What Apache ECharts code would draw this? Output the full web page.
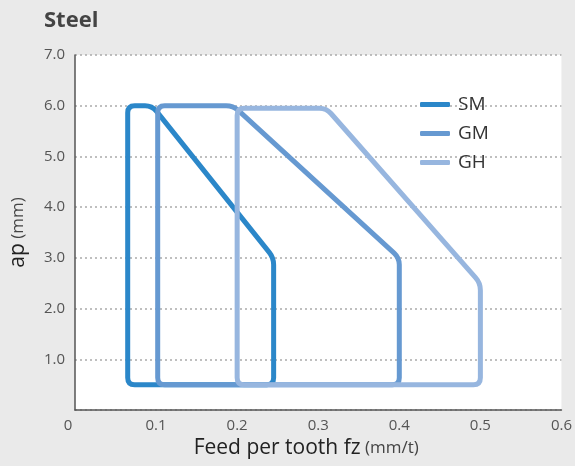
<!DOCTYPE html>
<html>
<head>
<meta charset="utf-8">
<script src="https://cdn.jsdelivr.net/npm/echarts@6/dist/echarts.min.js"></script>
<style>
  html, body { margin: 0; padding: 0; background: #eaeaea; }
  #chart { width: 575px; height: 466px; }
</style>
</head>
<body>
<div id="chart"></div>
<script>
// outline vertices of each grade (fz, ap)
var seriesNames = ['SM', 'GM', 'GH'];
var smFz = [0.065, 0.065, 0.095, 0.245, 0.245];
var smAp = [0.5, 6.0, 6.0, 3.0, 0.5];
var gmFz = [0.102, 0.102, 0.195, 0.4, 0.4];
var gmAp = [0.5, 6.0, 6.0, 3.0, 0.5];
var ghFz = [0.2, 0.2, 0.31, 0.5, 0.5];
var ghAp = [0.5, 5.95, 5.95, 2.5, 0.5];
var xTicks = [0, 0.1, 0.2, 0.3, 0.4, 0.5, 0.6];
var yTicks = [0, 1, 2, 3, 4, 5, 6, 7];

var colors = ['#2b87c9', '#6699d1', '#97b6df'];

var myChart = echarts.init(document.getElementById('chart'));

function toData(xs, ys) {
  return xs.map(function (x, i) { return [x, ys[i]]; });
}

// rounded polygon, drawn once per series from all its points
function makeRender(color) {
  return function (params, api) {
    if (params.dataIndex !== 0) return null;
    var pts = [];
    var n = params.dataInsideLength;
    for (var i = 0; i < n; i++) {
      pts.push(api.coord([api.value(0, i), api.value(1, i)]));
    }
    var r = 7;
    var d = '';
    for (var k = 0; k < pts.length; k++) {
      var v = pts[k];
      var p = pts[(k - 1 + pts.length) % pts.length];
      var q = pts[(k + 1) % pts.length];
      var lp = Math.hypot(p[0] - v[0], p[1] - v[1]);
      var lq = Math.hypot(q[0] - v[0], q[1] - v[1]);
      var rr = Math.min(r, lp / 2, lq / 2);
      var a = [v[0] + (p[0] - v[0]) / lp * rr, v[1] + (p[1] - v[1]) / lp * rr];
      var b = [v[0] + (q[0] - v[0]) / lq * rr, v[1] + (q[1] - v[1]) / lq * rr];
      d += (k === 0 ? 'M' : 'L') + a[0] + ',' + a[1] + ' Q' + v[0] + ',' + v[1] + ' ' + b[0] + ',' + b[1] + ' ';
    }
    d += 'Z';
    return {
      type: 'path',
      shape: { pathData: d },
      style: { fill: null, stroke: color, lineWidth: 5, lineJoin: 'round', lineCap: 'round' }
    };
  };
}

var allData = [toData(smFz, smAp), toData(gmFz, gmAp), toData(ghFz, ghAp)];

var option = {
  backgroundColor: '#eaeaea',
  animation: false,
  textStyle: { fontFamily: 'Open Sans' },
  title: {
    text: 'Steel',
    left: 39,
    top: 5,
    textStyle: { fontSize: 22, fontWeight: 'bold', color: '#444', fontFamily: 'Open Sans' }
  },
  legend: {
    orient: 'vertical',
    left: 420,
    top: 95,
    padding: 0,
    itemWidth: 30,
    itemHeight: 5,
    itemGap: 10,
    data: seriesNames.map(function (name, i) {
      return { name: name, icon: 'roundRect', itemStyle: { color: colors[i], borderWidth: 0 } };
    }),
    textStyle: { fontSize: 19, color: '#333', padding: [0, 0, 0, 3] }
  },
  grid: {
    left: 74,
    right: 8,
    top: 55,
    bottom: 56,
    show: true,
    backgroundColor: '#fff',
    borderWidth: 0
  },
  xAxis: {
    type: 'value',
    min: xTicks[0],
    max: xTicks[xTicks.length - 1],
    interval: 0.1,
    name: '{a|Feed per tooth fz} {b|(mm/t)}',
    nameLocation: 'middle',
    nameGap: 28,
    nameTextStyle: {
      fontSize: 17,
      padding: [0, 24, 0, 0],
      rich: {
        a: { fontSize: 21, color: '#222', fontFamily: 'Open Sans' },
        b: { fontSize: 17, color: '#444', fontFamily: 'Open Sans' }
      }
    },
    axisLine: { show: true, lineStyle: { color: '#555', width: 1.5 } },
    axisTick: { show: false },
    splitLine: { show: false },
    axisLabel: {
      fontSize: 15,
      color: '#555',
      margin: 8,
      formatter: function (v) { return v === 0 ? '{z|0}' : v.toFixed(1); },
      rich: { z: { fontSize: 15, color: '#555', padding: [0, 14, 0, 0] } }
    }
  },
  yAxis: {
    type: 'value',
    min: yTicks[0],
    max: yTicks[yTicks.length - 1],
    interval: 1,
    name: '{a|ap} {b|(mm)}',
    nameLocation: 'middle',
    nameGap: 46,
    nameRotate: 90,
    nameTextStyle: {
      fontSize: 17,
      rich: {
        a: { fontSize: 21, color: '#222', fontFamily: 'Open Sans' },
        b: { fontSize: 17, color: '#444', fontFamily: 'Open Sans' }
      }
    },
    axisLine: { show: true, lineStyle: { color: '#555', width: 1.5 } },
    axisTick: { show: false },
    splitLine: { show: true, lineStyle: { color: '#aaa', width: 1.5, type: [2, 3] } },
    axisLabel: {
      fontSize: 15,
      color: '#555',
      margin: 10,
      formatter: function (v) { return v === 0 ? '' : v.toFixed(1); }
    }
  },
  series: seriesNames.map(function (name, i) {
    return {
      name: name,
      type: 'custom',
      renderItem: makeRender(colors[i]),
      itemStyle: { color: colors[i] },
      encode: { x: 0, y: 1 },
      data: allData[i],
      z: 2 + i
    };
  })
};

myChart.clear();
option && myChart.setOption(option);
</script>
</body>
</html>
